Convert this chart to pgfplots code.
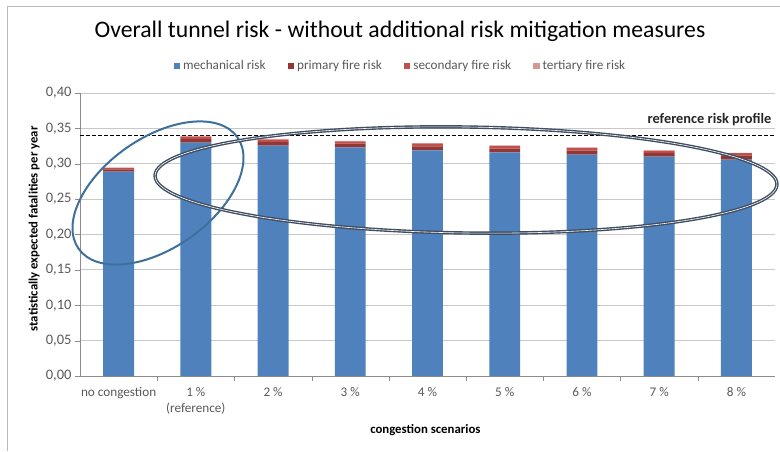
\documentclass[border=0pt]{standalone}
\usepackage{pgfplots}
\pgfplotsset{compat=1.18}
\usepackage{fontspec}
\setmainfont{Carlito}
\definecolor{mech}{HTML}{4F81BD}
\definecolor{prim}{HTML}{943634}
\definecolor{sec}{HTML}{C0504D}
\definecolor{tert}{HTML}{D99694}
\definecolor{tickgrey}{HTML}{595959}
\definecolor{gridgrey}{HTML}{C8C8C8}
\definecolor{axisgrey}{HTML}{8C8C8C}
\definecolor{ellblue}{HTML}{3E709C}
\definecolor{elldark}{HTML}{3F4D61}
\begin{document}
\begin{tikzpicture}[x=1pt,y=1pt]
\clip (0,0) rectangle (780,451);
\draw[gray!55, line width=1pt] (7,0) -- (7,444) -- (780,444);
\node[font=\fontsize{23.7}{28}\selectfont, anchor=center] at (400,420) {Overall tunnel risk - without additional risk mitigation measures};
\begin{axis}[
  at={(80pt,75pt)}, anchor=south west,
  width=695pt, height=283pt, scale only axis,
  ybar stacked, bar width=0.4,
  xmin=-0.5, xmax=8.5, ymin=0, ymax=0.40,
  ytick={0,0.05,...,0.41},
  xtick={0,...,8},
  xticklabels={no congestion, 1 \%\\(reference), 2 \%, 3 \%, 4 \%, 5 \%, 6 \%, 7 \%, 8 \%},
  xticklabel style={align=center, font=\fontsize{13.2}{15.5}\selectfont, text=tickgrey, yshift=-3pt},
  yticklabel style={font=\fontsize{14.5}{16}\selectfont, text=tickgrey},
  /pgf/number format/.cd, fixed, fixed zerofill, precision=2, use comma, assume math mode=true,
  /pgfplots/.cd,
  minor xtick={0.5,1.5,...,7.5},
  major x tick style={draw=none},
  minor x tick style={axisgrey},
  ytick style={axisgrey},
  tick align=outside,
  major tick length=5pt, minor tick length=5pt,
  ymajorgrids, grid style={gridgrey, line width=0.8pt},
  axis line style={axisgrey},
  axis x line*=bottom, axis y line*=left,
  ylabel={statistically expected fatalities per year},
  ylabel style={font=\bfseries\fontsize{12.7}{14}\selectfont, at={(axis description cs:-0.066,0.52)}, anchor=center},
  xlabel={congestion scenarios},
  xlabel style={font=\bfseries\fontsize{12.8}{14}\selectfont, at={(axis description cs:0.497,-0.191)}, anchor=center},
  legend columns=4,
  legend style={at={(0.461,1.095)}, anchor=center, draw=none, fill=none,
    font=\fontsize{13.2}{15}\selectfont, text=tickgrey,
    /tikz/every odd column/.append style={column sep=1pt},
    /tikz/every even column/.append style={column sep=20pt}},
  legend image code/.code={\fill[#1] (0pt,-3pt) rectangle (6.5pt,3.5pt);},
]
\addplot[fill=mech, draw=none] coordinates {(0,0.289) (1,0.330) (2,0.3255) (3,0.323) (4,0.319) (5,0.316) (6,0.313) (7,0.310) (8,0.306)};
\addplot[fill=prim, draw=none] coordinates {(0,0.003) (1,0.005) (2,0.005) (3,0.0055) (4,0.0055) (5,0.0055) (6,0.0055) (7,0.0055) (8,0.006)};
\addplot[fill=sec, draw=none] coordinates {(0,0.002) (1,0.0035) (2,0.0035) (3,0.003) (4,0.0035) (5,0.0035) (6,0.0035) (7,0.003) (8,0.003)};
\addplot[fill=tert, draw=none] coordinates {(0,0.0005) (1,0.001) (2,0.001) (3,0.001) (4,0.001) (5,0.001) (6,0.001) (7,0.0005) (8,0.0005)};
\legend{mechanical risk, primary fire risk, secondary fire risk, tertiary fire risk}
\draw[black, line width=1.3pt, dash pattern=on 4pt off 2pt] (axis cs:-0.5,0.34) -- (axis cs:8.5,0.34);
\node[font=\bfseries\fontsize{14.4}{16}\selectfont, anchor=south east, text=black!85, inner sep=1pt] at (axis cs:8.47,0.34) [yshift=8pt] {reference risk profile};
\end{axis}
\draw[ellblue, line width=2pt, rotate around={35:(158,258)}] (158,258) ellipse [x radius=97pt, y radius=55pt];
\draw[elldark, line width=1.4pt, double=white, double distance=0.6pt, rotate around={-0.8:(466,271)}] (466,271) ellipse [x radius=311pt, y radius=53pt];
\end{tikzpicture}
\end{document}
